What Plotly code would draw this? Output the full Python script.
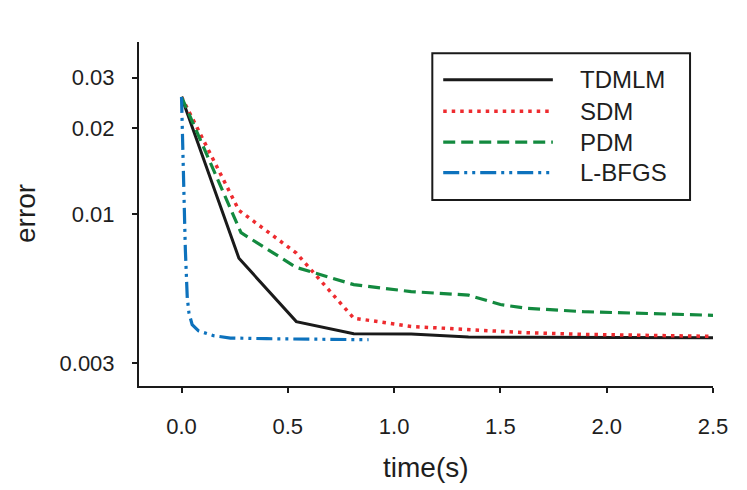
import math
import plotly.graph_objects as go

# ---- data ----
t_tdmlm = [0, 0.27, 0.54, 0.81, 1.08, 1.35, 1.62, 1.89, 2.16, 2.43, 2.5]
e_tdmlm = [0.0257, 0.0070, 0.0042, 0.00381, 0.00380, 0.00371, 0.0037, 0.0037, 0.0037, 0.00369, 0.00369]

t_sdm = [0, 0.27, 0.54, 0.81, 1.08, 1.35, 1.62, 1.89, 2.16, 2.43, 2.5]
e_sdm = [0.0257, 0.0103, 0.0073, 0.00432, 0.00404, 0.00395, 0.00384, 0.00379, 0.00376, 0.00374, 0.00373]

t_pdm = [0, 0.28, 0.54, 0.81, 1.08, 1.35, 1.5, 1.62, 1.89, 2.16, 2.43, 2.5]
e_pdm = [0.0257, 0.0086, 0.0065, 0.00566, 0.00535, 0.0052, 0.00482, 0.00468, 0.00455, 0.00448, 0.00443, 0.00442]

t_lbfgs = [0, 0.005, 0.011, 0.018, 0.027, 0.035, 0.05, 0.08, 0.15, 0.23, 0.4, 0.6, 0.88]
e_lbfgs = [0.0257, 0.018, 0.0114, 0.0075, 0.0051, 0.0045, 0.0041, 0.0039, 0.00375, 0.00368, 0.00366, 0.00365, 0.00363]

series_names = ["TDMLM", "SDM", "PDM", "L-BFGS"]
x_ticks = [0, 0.5, 1.0, 1.5, 2.0, 2.5]
x_tick_labels = ["0.0", "0.5", "1.0", "1.5", "2.0", "2.5"]
y_ticks = [0.003, 0.01, 0.02, 0.03]
y_tick_labels = ["0.003", "0.01", "0.02", "0.03"]

# ---- styles ----
FONT = "Liberation Sans, Arial, sans-serif"
TXT = "#1e1e1e"
styles = [
    dict(color="#1a1a1a", width=3, dash="solid"),
    dict(color="#ee2b2f", width=3.5, dash="3.5px,5px"),
    dict(color="#138a3f", width=3.2, dash="12px,6px"),
    dict(color="#0d72bd", width=3.2, dash="16px,5px,3px,5px,3px,5px"),
]

fig = go.Figure()
for name, xs, ys, st in zip(series_names,
                            [t_tdmlm, t_sdm, t_pdm, t_lbfgs],
                            [e_tdmlm, e_sdm, e_pdm, e_lbfgs],
                            styles):
    fig.add_trace(go.Scatter(x=xs, y=ys, mode="lines", name=name,
                             line=dict(color=st["color"], width=st["width"], dash=st["dash"]),
                             showlegend=False))

# ---- manual legend (box, samples, labels) ----
box = dict(x0=0.511, x1=0.960, y0=0.541, y1=0.967)
fig.add_shape(type="rect", xref="paper", yref="paper", **box,
              line=dict(color="#1a1a1a", width=2), fillcolor="white", layer="above")
rows_y = [0.890, 0.799, 0.709, 0.620]
for name, st, ry in zip(series_names, styles, rows_y):
    fig.add_shape(type="line", xref="paper", yref="paper",
                  x0=0.530, x1=0.721, y0=ry, y1=ry, layer="above",
                  line=dict(color=st["color"], width=st["width"], dash=st["dash"]))
    fig.add_annotation(xref="paper", yref="paper", x=0.765, y=ry, text=name,
                       showarrow=False, xanchor="left", yanchor="middle",
                       font=dict(family=FONT, size=24, color=TXT))

# ---- axis titles ----
fig.add_annotation(xref="paper", yref="paper", x=0.5, y=-0.2355, text="time(s)",
                   showarrow=False, xanchor="center", yanchor="middle",
                   font=dict(family=FONT, size=28, color=TXT))
fig.add_annotation(xref="paper", yref="paper", x=-0.1986, y=0.5, text="error",
                   showarrow=False, xanchor="center", yanchor="middle", textangle=-90,
                   font=dict(family=FONT, size=28, color=TXT))

# page body has an 8px margin: size the figure to fit the window
fig.update_layout(
    width=739, height=482,
    margin=dict(l=131, r=34, t=34, b=104),
    paper_bgcolor="white", plot_bgcolor="white",
    font=dict(family=FONT, size=22, color=TXT),
    xaxis=dict(range=[-0.2, 2.5], tickvals=x_ticks, ticktext=x_tick_labels,
               showline=True, linecolor="#1a1a1a", linewidth=2,
               ticks="outside", ticklen=5, tickwidth=2, tickcolor="#1a1a1a",
               showgrid=False, zeroline=False, ticklabelstandoff=15,
               tickfont=dict(family=FONT, size=22, color=TXT)),
    yaxis=dict(type="log", range=[math.log10(0.0025), math.log10(0.04)],
               tickvals=y_ticks, ticktext=y_tick_labels,
               showline=True, linecolor="#1a1a1a", linewidth=2,
               ticks="outside", ticklen=5, tickwidth=2, tickcolor="#1a1a1a",
               showgrid=False, zeroline=False, ticklabelstandoff=13,
               tickfont=dict(family=FONT, size=22, color=TXT)),
)

fig.write_html("out.html")
